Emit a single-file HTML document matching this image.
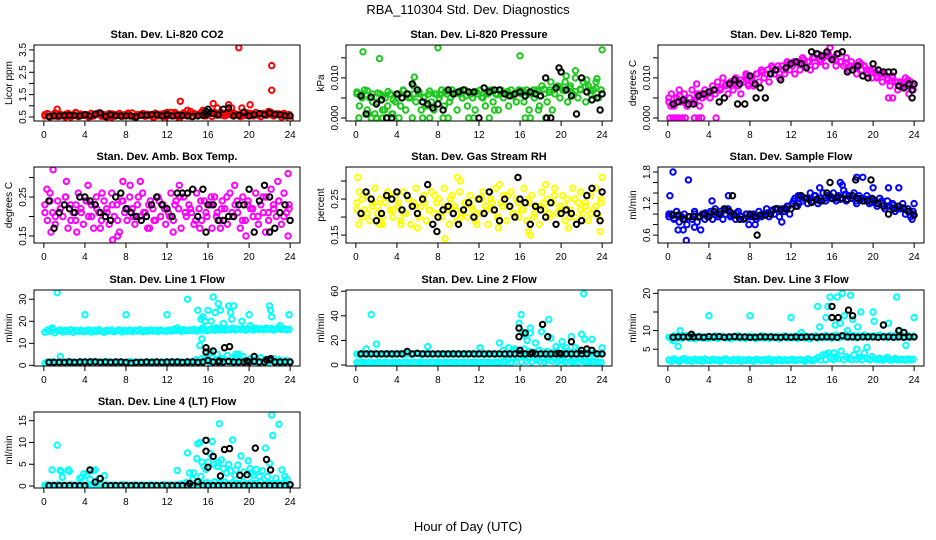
<!DOCTYPE html>
<html><head><meta charset="utf-8">
<style>
html,body{margin:0;padding:0;background:#fff;}
svg{display:block;font-family:"Liberation Sans",sans-serif;}
</style></head>
<body>
<svg id="chart" width="936" height="540" viewBox="0 0 936 540">
<text x="468" y="14" text-anchor="middle" font-size="13">RBA_110304  Std. Dev. Diagnostics</text>
<text x="468" y="531" text-anchor="middle" font-size="13">Hour of Day (UTC)</text>
</svg>
<script>
// ---------- data ----------
const hourTicks = [0,4,8,12,16,20,24];

const co2Red = [.55,.65,.5,.6,.68,.52,.62,.58,.5,.66,.56,.6,.7,.52,.63,.57,
.6,.5,.66,.55,.62,.68,.53,.6,.57,.65,.5,.62,.58,.66,.52,.6,
.63,.55,.68,.5,.6,.57,.65,.53,.62,.58,.5,.67,.55,.6,.64,.52,
.6,.7,.55,.65,.5,.62,.68,.57,.6,.52,.66,.58,.63,.7,.55,.6,
.65,.52,.7,.58,.62,.68,.55,.6,.72,.56,.64,.6,.52,.68,.58,.62,
.66,.55,.7,.6,.52,.65,.58,.62,.7,.55,.64,.6,.5,.66,.57,.6];
const co2Red2 = [.6,.52,.66,.55,.62,.5,.68,.57,.6,.53,.65,.58,.5,.63,.6,.55,.67,.52,.6,.64,.56,.5,.62,.66,
.58,.7,.55,.62,.75,.6,.68,.55,.72,.62,.58,.7,.65,.6,.55,.68,.62,.58,.66,.6,.55,.64,.58,.6];
const co2RedOut = [[1.3,.85],[13.3,1.2],[14,.8],[15.5,.8],[16.5,1.1],[16.9,.9],[18,1.05],[18.3,.9],[19,3.6],[19.3,.9],[20.1,1.05],[22.2,2.8],[22.2,1.7],[21.9,.75],[12,.7],[6.4,.4],[24,.4],[13.2,.4],[11.8,.42]];
const co2Black = [.52,.55,.55,.56,.58,.57,.55,.6,.55,.62,.68,.52,.6,.55,.55,.55,.55,.5,.58,.58,.6,.6,.55,.62,.55,.58,.57,.55,.52,.55,.58,.85,.65,.6,.85,.9,.55,.58,.72,.55,.6,.65,.6,.68,.62,.6,.55,.55];
const co2BlackOut = [[15.8,.75],[15.8,.6],[12,.58]];

const presGreen = [.006,.003,.006,.007,.002,.005,.006,.001,.004,.006,.002,.005,.003,.006,.001,.004,
.006,.003,.007,.002,.006,.005,.008,.004,.006,.002,.005,.003,.006,.004,.002,.006,
.005,.007,.003,.006,.004,.007,.006,.002,.006,.005,.007,.003,.006,.005,.002,.006,
.007,.005,.003,.006,.007,.004,.006,.002,.007,.005,.006,.003,.007,.006,.004,.007,
.006,.004,.007,.002,.006,.005,.007,.003,.008,.006,.004,.007,.002,.006,.008,.005,
.007,.009,.004,.008,.006,.010,.005,.007,.009,.004,.008,.006,.007,.009,.005,.007];
const presGreen2 = [.0065,.005,.0068,.004,.0062,.0055,.0066,.0045,.0058,.0068,.005,.006,.0065,.0052,.0067,.006,
.0058,.0066,.005,.0064,.0068,.0055,.006,.0066,.0052,.0064,.0068,.0058,.0062,.0066,.0055,.0064,
.0068,.006,.007,.0066,.0072,.0064,.007,.0078,.0068,.0074,.0066,.0072,.0078,.0068,.0074,.007];
const presGreenOut = [[0.7,.0165],[2.3,.0148],[8,.0175],[16,.0155],[24,.017],[5.7,.0102],[21.4,.0118],[0.3,0],[1.5,0],[2,0],[2.6,0],[3,0],[4.2,0],[5.5,0],[6.5,0],[7.2,0],[8.5,0],[9,0],[11,0],[11.5,0],[13,0],[16.5,0],[17,0],[18.5,0],[1.2,.001],[2.8,.002],[3.5,.001],[13.5,.002],[17.8,.002],[19,.009],[20.5,.0105],[22.5,.0095],[23.5,.0098]];
const presBlack = [.0055,.001,.0052,.0035,.0045,0,0,.006,.005,.006,.0085,.007,.004,.0035,.0025,.0035,.002,.007,.006,.0065,.007,.0065,.0065,0,.0075,.0065,.007,.007,.006,.0055,.006,.0065,.0055,.0065,.006,.0055,.01,0,.0075,.0115,.007,.0055,.001,.01,.0065,.0045,.005,.006];
const presBlackOut = [[19.8,.0125],[23.8,.002],[18.6,0]];

const tempMag = [.004,.006,.003,.005,.007,.004,.006,.003,.005,.007,.004,.006,.003,.005,.007,.006,
.005,.008,.006,.009,.007,.010,.008,.006,.009,.007,.010,.008,.006,.009,.011,.008,
.010,.008,.011,.009,.012,.010,.011,.009,.013,.011,.012,.010,.013,.011,.014,.012,
.013,.011,.014,.012,.015,.013,.014,.012,.015,.013,.016,.014,.015,.013,.016,.015,
.015,.013,.016,.014,.013,.015,.012,.014,.013,.011,.014,.012,.013,.011,.012,.010,
.012,.010,.011,.009,.011,.010,.008,.010,.009,.007,.009,.008,.010,.008,.009,.007];
const tempMag2 = [.005,.0035,.0055,.004,.005,.0045,.006,.0055,.0065,.007,.0075,.0085,.008,.009,.0095,.0105,
.01,.011,.0115,.012,.0125,.013,.012,.0135,.014,.0135,.0145,.014,.015,.0145,.0155,.015,
.0145,.014,.0135,.013,.0125,.0135,.012,.0115,.0105,.011,.0095,.0105,.009,.0085,.0095,.008];
const tempMagOut = [[0.2,0],[0.5,0],[0.8,0],[1.1,0],[1.4,0],[1.7,0],[2.6,0],[3,0],[3.3,0],[4.7,0],[2.8,.0085],[7.8,.0085],[21.5,.005],[21.9,.005],[23.5,.006],[15.8,.0175],[0.3,.003],[1.9,.003]];
const tempBlack = [.0035,.004,.0045,.0035,.0035,.0055,.006,.0065,.007,.004,.005,.0085,.0095,.0085,.0035,.0105,.0085,.0075,.005,.011,.012,.0095,.0125,.0135,.014,.0135,.0125,.0165,.016,.0155,.0165,.0145,.016,.0165,.0115,.012,.013,.0105,.01,.0135,.012,.0115,.0115,.0115,.008,.0075,.0085,.0085];
const tempBlackOut = [[23.8,.005],[23.8,.007],[6.8,.0035],[8.6,.005]];

const ambMag = [.23,.19,.26,.21,.18,.24,.22,.20,.25,.17,.23,.21,.19,.26,.22,.18,
.24,.20,.23,.17,.25,.21,.19,.24,.22,.18,.26,.20,.23,.16,.24,.21,
.19,.25,.22,.18,.23,.20,.26,.21,.17,.24,.22,.19,.25,.20,.23,.18,
.21,.26,.19,.24,.22,.17,.25,.20,.23,.21,.18,.26,.22,.19,.24,.20,
.23,.17,.25,.21,.19,.24,.22,.18,.26,.20,.23,.21,.17,.25,.19,.24,
.22,.20,.26,.18,.23,.21,.25,.19,.27,.22,.20,.24,.18,.26,.21,.23];
const ambMag2 = [.21,.24,.2,.22,.25,.19,.23,.21,.24,.2,.22,.26,.21,.23,.19,.24,.22,.2,.25,.21,.23,.19,.24,.22,
.2,.23,.25,.21,.22,.19,.24,.21,.23,.2,.22,.25,.21,.24,.19,.23,.22,.2,.25,.21,.23,.24,.2,.22];
const ambMagOut = [[0.9,.32],[0.3,.27],[2.2,.29],[4.3,.28],[6.7,.14],[7.2,.15],[9.4,.29],[8.4,.28],[7.7,.29],[22.8,.29],[23.8,.31],[23.8,.15],[19.7,.15],[3.2,.16],[0.7,.16],[10.3,.17],[15.2,.17],[21.6,.16],[12.6,.16],[16.3,.25],[18.6,.28],[17.2,.17],[13.2,.28],[5.5,.17]];
const ambBlack = [.24,.17,.21,.23,.22,.21,.25,.25,.24,.23,.21,.20,.19,.25,.26,.22,.21,.20,.19,.20,.23,.25,.23,.22,.20,.26,.26,.26,.27,.20,.27,.23,.23,.19,.19,.20,.20,.23,.23,.27,.16,.24,.28,.25,.17,.21,.23,.19];
const ambBlackOut = [[15.8,.16],[22,.16]];

const rhYel = [.24,.27,.20,.22,.26,.19,.23,.28,.21,.25,.18,.24,.27,.22,.20,.26,
.23,.19,.27,.21,.25,.18,.24,.28,.20,.23,.26,.19,.22,.27,.21,.24,
.25,.20,.28,.22,.18,.26,.23,.19,.27,.21,.24,.20,.26,.22,.19,.25,
.21,.27,.23,.18,.25,.22,.28,.20,.24,.26,.19,.23,.27,.21,.25,.20,
.22,.28,.19,.24,.26,.21,.23,.18,.27,.22,.25,.20,.24,.28,.21,.23,
.26,.19,.25,.22,.28,.20,.24,.27,.21,.23,.19,.26,.22,.28,.20,.24];
const rhYel2 = [.22,.25,.21,.24,.23,.2,.26,.22,.24,.21,.25,.23,.2,.24,.22,.26,.21,.23,.25,.22,.2,.24,.23,.21,
.25,.22,.24,.2,.23,.26,.21,.24,.22,.25,.2,.23,.24,.21,.26,.22,.23,.2,.25,.22,.24,.21,.23,.25];
const rhYelOut = [[0.2,.31],[8.7,.14],[9.9,.31],[10.2,.30],[16.8,.16],[17,.15],[20.7,.17],[24,.31],[23.8,.16],[0.3,.18],[2.3,.18],[4.4,.18],[6,.17],[11.8,.18],[18.5,.29],[21.9,.27],[14,.29],[13.9,.17]];
const rhBlack = [.21,.27,.25,.19,.21,.26,.25,.27,.22,.26,.23,.21,.25,.29,.18,.20,.22,.23,.21,.18,.22,.24,.20,.25,.21,.27,.22,.19,.25,.23,.20,.25,.24,.18,.23,.22,.20,.24,.18,.21,.22,.21,.18,.19,.26,.28,.21,.27];
const rhBlackOut = [[7.9,.16],[15.8,.31],[23.8,.19]];

const flowBlue = [.95,1.0,.9,1.05,.85,.95,1.0,.8,.95,.9,1.05,.85,.95,1.0,.9,.95,
1.0,.9,1.1,.95,1.05,.9,1.0,1.1,.95,1.0,.9,1.05,.95,.9,1.0,.95,
.95,1.0,.9,1.05,.95,1.0,1.1,.95,1.05,1.0,1.1,.95,1.1,1.05,1.15,1.0,
1.2,1.3,1.15,1.35,1.25,1.3,1.2,1.4,1.25,1.35,1.2,1.3,1.4,1.25,1.35,1.3,
1.4,1.25,1.35,1.3,1.45,1.25,1.35,1.3,1.4,1.2,1.35,1.3,1.25,1.35,1.2,1.3,
1.25,1.15,1.3,1.2,1.1,1.25,1.15,1.2,1.05,1.15,1.1,1.2,1.0,1.1,.95,1.05];
const flowBlue2 = [1.0,.92,.98,.9,.95,1.0,.95,1.02,1.05,.98,1.0,1.08,.98,1.02,.95,1.0,.98,.95,1.0,1.02,1.08,1.1,1.05,1.15,
1.25,1.2,1.3,1.28,1.35,1.25,1.3,1.35,1.3,1.28,1.38,1.3,1.25,1.3,1.28,1.22,1.2,1.25,1.15,1.18,1.1,1.12,1.05,1.0];
const flowBlueOut = [[0.2,1.35],[0.5,1.8],[2.0,1.65],[1.0,.7],[1.5,.7],[1.8,.5],[3.2,.7],[4.3,1.25],[5.9,1.35],[8.5,.8],[11.1,.85],[14.8,1.5],[16.8,1.6],[17,1.55],[18.4,1.7],[19,1.7],[20,1.5],[21.5,1.5],[22.5,1.5],[24,1.2],[23.8,.9],[12.7,1.35],[2.6,.75],[7.9,.8]];
const flowBlack = [.98,.98,.9,.95,.95,.95,1.0,.95,1.05,1.0,1.1,1.05,.98,.9,.92,1.0,.95,.98,.98,1.0,1.1,1.08,1.1,1.1,1.15,1.35,1.3,1.22,1.28,1.25,1.4,1.3,1.32,1.3,1.28,1.35,1.3,1.25,1.25,1.28,1.2,1.15,1.0,1.1,1.15,1.1,1.05,.98];
const flowBlackOut = [[15.8,1.6],[19.8,1.65],[6.3,1.35],[8.7,.6],[18.3,1.65]];

const l1Upper = [15,16,15.5,16.3,14.8,15.7,16.1,15.2,15.9,15.4,16.2,15,15.8,15.5,16,15.3,
15.6,16.1,15.1,15.8,15.4,16.2,15.5,15,15.9,15.6,16,15.3,15.7,16.1,15.2,15.8,
15.5,16,15.4,15.9,15.6,16.2,15.3,15.8,15.5,16.1,15.6,15.9,15.4,16,15.7,15.5,
16,15.6,16.3,15.8,16.1,15.5,16.2,15.7,16,15.8,16.4,15.6,16.1,15.9,16.3,15.7,
16.2,16.6,15.9,16.4,16.1,16.7,16,16.5,16.2,16.8,16.1,16.5,16.3,16.7,16,16.4,
16.5,16.1,16.8,16.3,16.6,16.2,16.9,16.4,16.7,16.1,16.5,16.8,16.3,16.6,16.2,16.4];
const l1Lower = [1,1.5,1.2,1.8,1,1.4,1.6,1.1,1.3,1.7,1.2,1.5,1.4,1.1,1.6,1.3,
1.5,1.2,1.8,1.4,1.1,1.6,1.3,1.5,1.2,1.7,1.4,1.1,1.5,1.3,1.6,1.2,
1.4,1.7,1.1,1.5,1.3,1.6,1.2,1.4,1.5,1.1,1.7,1.3,1.4,1.6,1.2,1.5,
1.3,1.6,1.2,1.5,1.7,1.4,1.1,1.6,1.5,1.3,2,2.5,1.5,3,2,4,
1.5,3.5,2,5,1.2,3,2.5,4.5,1.5,2,3.5,1.8,2.5,4,2,1.5,
3,2,2.5,1.5,3.5,2,2.8,1.5,2.2,3,1.8,2.5,1.5,2,2.2,1.8];
const l1CyanOut = [[1.3,33],[4,23],[8,23],[12,23],[14,30],[16.5,31],[15,25],[15.3,21],[15.5,22],[15.7,20],[16,25],[16.3,20],[16.7,24],[17,28],[17.2,25],[17.5,19],[18,27],[18.2,24],[18.5,27],[18.3,21],[19.3,20],[20,23],[20.1,18],[22,27],[22.1,25],[22.2,22],[23,18],[23.9,23],[15.2,9],[15.4,12],[1.6,4],[15.5,17],[16.2,6],[16.8,17],[18.7,5],[19,5],[16,3],[17.5,2],[0.8,17],[13,17]];
const l1Black = [1.4,1.4,1.4,1.4,1.5,1.4,1.5,1.5,1.5,1.6,1.4,1.5,1.4,1.5,1.5,1.4,1,1.4,1.4,1.5,1.4,1.5,1.4,1.5,1.5,1.5,1.4,1.5,1.5,1.4,1.5,2.2,1.5,1.5,1.5,1.8,1.5,1.5,1.5,1.5,1.8,1.5,1.5,2.5,1.5,1.5,1.5,1.5];
const l1BlackOut = [[15.8,8],[15.8,6],[16.5,6.5],[17.6,8],[18.1,8.5],[20.5,4],[21.7,2.5],[22.1,3],[17.1,2],[19.8,2]];

const l2Upper = [9,8.5,9.5,9,8.8,9.3,9,9.5,8.7,9.2,9,8.9,9.4,9,8.6,9.2,
9,9.5,8.8,9.1,9.3,8.7,9,9.4,9,8.8,9.2,9,9.5,8.9,9.1,9,
8.8,9.3,9,9.1,8.7,9.4,9,9.2,8.9,9,9.3,8.8,9.1,9.5,9,8.9,
9.2,9,8.8,9.4,9,9.1,8.7,9.3,9,12,9,14,10,9,12,9,
9.5,13,9,11,9.2,10,9,12,9,9.5,11,9,10,9.2,9,13,
9.5,9,11,9.2,10,9,12,9.4,9,10,9.1,9,9.5,9.2,9,9.3];
const l2Lower = [2,1.5,2.5,2,1.8,2.2,2,1.5,2.4,2,1.7,2.3,2,1.6,2.2,2,
2.3,1.8,2,2.4,1.6,2,2.2,1.8,2,2.5,1.7,2.1,2,2.3,1.9,2,
2.2,1.8,2,2.4,1.7,2.1,2,2.3,1.9,2,2.2,1.8,2.1,2,2.4,1.8,
2,2.2,1.9,2.3,2,1.8,2.4,2,2.2,3,2.5,4,2.2,5,3,6,
2.5,8,3,5,2.5,10,4,3,6,2.5,4,7,3,5,2.5,3.5,
4,2.5,6,3,2.2,4,2.5,5,3,2.2,2.8,2.5,3,2.2,2.5,2];
const l2CyanOut = [[1.5,41],[2,17],[7,15],[12.1,14],[14,18],[15.9,34],[16.1,41],[16.2,27],[16.5,24],[16.7,20],[17,30],[17,26],[17.5,18],[18.1,27],[18.8,37],[19,22],[19.5,15],[20.1,19],[21,23],[21.4,14],[22,25],[22.2,58],[22.3,21],[23,21],[24,14],[15.5,13],[17.8,12],[20.5,14],[19.3,10],[1,13]];
const l2Black = [9,9,9,9,9,9,9,9,9,11,9,9.5,9,9,9,9,9,9,9,9,9,9,9,9,9,9,9,9,9,9,9,9,9,9,9,9,9,9,9,9,9,9,9,9,9,12,9,9];
const l2BlackOut = [[15.9,30],[15.9,23],[16.5,26],[17.2,10],[18.2,33],[18.7,23],[21,19],[22,12],[22.5,13],[16,12],[19.8,9.5]];

const l3Upper = [8.2,7.8,8.6,8,8.4,7.9,8.3,8.7,8,8.4,7.8,8.2,8.5,8,8.3,7.9,
8.4,8.1,8.6,7.9,8.2,8.5,8,8.3,7.8,8.4,8.1,8.6,8,8.2,7.9,8.5,
8.1,8.4,7.8,8.2,8.6,8,8.3,7.9,8.5,8.1,8.4,7.8,8.2,8.6,8,8.3,
8.1,8.5,7.9,8.2,8.6,8,8.4,7.8,8.3,8.6,8,8.4,8.1,8.7,8.2,8.5,
8.3,8.8,8.1,8.6,8.3,8.9,8.2,8.5,8.7,8.1,8.6,8.4,8.8,8.2,8.5,8.3,
8.6,8.2,8.8,8.4,8.5,8.1,8.7,8.3,8.6,8.2,8.8,8.4,8.3,8.6,8.2,8.5];
const l3Lower = [2.1,1.8,2.4,2,1.7,2.2,2.5,1.9,2.1,1.8,2.3,2,2.2,1.8,2.4,2,
1.9,2.3,2,2.2,1.8,2.1,2.4,2,1.9,2.2,2,2.3,1.8,2.1,2,2.2,
2,1.8,2.3,2.1,1.9,2.2,2,2.4,1.8,2.1,2,2.3,1.9,2.2,2,2.1,
2.3,1.9,2.1,2.2,2,1.8,2.4,2.1,2,2.3,2.8,2.1,3.5,2.2,4,2.5,
2.2,3,2.4,4.5,2.2,3,2.5,2.2,3.5,2.3,2.8,2.2,4,2.5,2.2,3,
2.4,2.2,2.6,2.1,2.3,2.8,2.1,2.2,2.5,2.1,2.3,2.2,2.1,2.4,2.2,2.3];
const l3CyanOut = [[0.5,7.3],[1,5.8],[1.2,10],[4,14],[8,14],[12,13.5],[13,9.5],[14.6,16.5],[15.4,13.5],[15.6,16.5],[15.8,19],[16.5,19],[16.8,12],[17,20],[17.2,14],[17.8,19.5],[18,13],[18.5,11],[18.8,15],[19.4,5.5],[20,15],[20.1,12.5],[21,11.5],[21.5,12],[22.3,19],[22.6,10],[23.2,6],[24,13.5],[16,8],[17.5,10],[16.2,4],[18.4,5],[15.4,3.5],[14.8,11],[16.3,11.5]];
const l3Black = [8.2,8.3,8.3,8.3,8.3,8.3,8.2,8.4,8.3,8.4,8.2,8.3,8.4,8.3,8.3,8.2,8.2,8.3,8.3,8.3,8.2,8.2,8.3,8.2,8.3,8.2,8.3,8.3,8.2,8.3,8.3,8.3,8.2,8.6,8.3,8.3,8.2,8.3,8.3,8.3,8.2,8.3,8.3,8.2,8.3,8.2,8.3,8.3];
const l3BlackOut = [[16,16.5],[16,13.5],[16.6,13.5],[17.6,15.5],[18,14],[21,11.5],[22.5,10],[23,9.5],[2.3,9]];

const l4Base = [.2,.3,.1,.25,.2,.3,.15,.25,.2,.1,.3,.2,.25,.15,.3,.2,
.2,.25,.1,.3,.2,.15,.25,.2,.3,.1,.2,.25,.2,.15,.3,.2,
.25,.1,.2,.3,.15,.2,.25,.2,.1,.3,.2,.25,.15,.2,.3,.2,
.2,.3,.15,.25,.2,.5,.3,.8,.2,.5,.3,1,.4,.6,.3,.8,
.5,.3,1,.4,.7,.3,.9,.5,.3,.8,.4,.6,.3,1,.5,.4,
.8,.3,.6,.4,.9,.3,.5,.7,.3,.6,.4,.5,.3,.7,.4,.3];
const l4CyanOut = [[0.8,3.7],[1.3,9.4],[1.6,3.6],[1.7,3.3],[1.8,2],[2.4,3.7],[2.5,3.4],[3.5,1.8],[3.7,2],[3.9,2.8],[4.2,2.5],[4.5,1.5],[4.8,3.5],[5,3.7],[5.4,1.8],[5.9,2.4],[13,3.6],[14,7.6],[14.2,3],[14.6,3],[14.9,6.3],[15,9.7],[15.2,10],[15.4,5.5],[15.6,4.5],[15.8,3.8],[16.2,7.5],[16.4,10.2],[16.6,5],[16.9,4.5],[17.1,14.3],[17.3,6],[17.5,4],[17.8,3],[18,5],[18.2,3.5],[18.4,10.6],[18.6,2.5],[18.9,4.8],[19.2,6.9],[19.5,3.2],[19.9,5.8],[20.1,4],[20.4,2.5],[20.7,3.8],[21,2.2],[21.3,3.5],[21.6,8.7],[21.8,2.2],[22,5.2],[22.2,16.3],[22.3,11.6],[22.6,1.8],[22.9,14.2],[23.2,3.7],[23.5,2.2],[23.7,1.5],[16,5.5],[17,5.5],[18.7,3.7],[20.2,3],[14.5,1.5],[15.3,2.2]];
const l4Black = [.1,.1,.1,.1,.1,.1,.1,.1,3.7,.9,1.7,.1,.1,.1,.1,.1,.1,.1,.1,.1,.1,.1,.1,.1,.1,.1,.1,.1,.1,1,.1,.1,.1,.1,.1,.1,.1,.1,.1,.1,.1,.1,.1,.1,.1,.1,.1,.3];
const l4BlackOut = [[15.8,10.5],[15.8,8],[16,4.3],[16.5,6.8],[17.2,2.3],[17.6,8.4],[18.1,8.6],[19.1,2.5],[19.8,2.6],[20.6,8.7],[21.7,6.1],[22.1,3.7],[14.2,.6]];

// ---------- drawing ----------
const NS = 'http://www.w3.org/2000/svg';
const svg = document.getElementById('chart');
const colX = [34,346,658], rowY = [45,167,290,412], PW = 266, PH = 76;

function mk(tag, attrs, parent){
  const e = document.createElementNS(NS, tag);
  for (const k in attrs) e.setAttribute(k, attrs[k]);
  (parent||svg).appendChild(e);
  return e;
}

const panels = [
 {key:'co2',title:'Stan. Dev. Li-820 CO2',ylab:'Licor ppm',c:0,r:0,y0:.32,y1:3.72,ticks:[.5,1,1.5,2,2.5,3,3.5],labels:['0.5','','1.5','','2.5','','3.5'],color:'#ff0000',series:[co2Red,co2Red2],out:co2RedOut,blk:co2Black,blkOut:co2BlackOut},
 {key:'pressure',title:'Stan. Dev. Li-820 Pressure',ylab:'kPa',c:1,r:0,y0:-.00075,y1:.0182,ticks:[0,.005,.01,.015],labels:['0.000','','0.010',''],color:'#1ec81e',series:[presGreen,presGreen2],out:presGreenOut,blk:presBlack,blkOut:presBlackOut},
 {key:'temp',title:'Stan. Dev. Li-820 Temp.',ylab:'degrees C',c:2,r:0,y0:-.00075,y1:.0182,ticks:[0,.005,.01,.015],labels:['0.000','','0.010',''],color:'#ff00ff',series:[tempMag,tempMag2],out:tempMagOut,blk:tempBlack,blkOut:tempBlackOut},
 {key:'ambbox',title:'Stan. Dev. Amb. Box Temp.',ylab:'degrees C',c:0,r:1,y0:.132,y1:.327,ticks:[.15,.2,.25,.3],labels:['0.15','','0.25',''],color:'#ff00ff',series:[ambMag,ambMag2],out:ambMagOut,blk:ambBlack,blkOut:ambBlackOut},
 {key:'rh',title:'Stan. Dev. Gas Stream RH',ylab:'percent',c:1,r:1,y0:.128,y1:.339,ticks:[.15,.2,.25,.3],labels:['0.15','','0.25',''],color:'#ffff00',series:[rhYel,rhYel2],out:rhYelOut,blk:rhBlack,blkOut:rhBlackOut},
 {key:'sampleflow',title:'Stan. Dev. Sample Flow',ylab:'ml/min',c:2,r:1,y0:.45,y1:1.895,ticks:[.6,.8,1,1.2,1.4,1.6,1.8],labels:['0.6','','','1.2','','','1.8'],color:'#0000ff',series:[flowBlue,flowBlue2],out:flowBlueOut,blk:flowBlack,blkOut:flowBlackOut},
 {key:'line1',title:'Stan. Dev. Line 1 Flow',ylab:'ml/min',c:0,r:2,y0:-.3,y1:34.2,ticks:[0,10,20,30],labels:['0','10','20','30'],color:'#00ffff',series:[l1Upper,l1Lower],out:l1CyanOut,blk:l1Black,blkOut:l1BlackOut},
 {key:'line2',title:'Stan. Dev. Line 2 Flow',ylab:'ml/min',c:1,r:2,y0:-.8,y1:61,ticks:[0,20,40,60],labels:['0','20','40','60'],color:'#00ffff',series:[l2Upper,l2Lower],out:l2CyanOut,blk:l2Black,blkOut:l2BlackOut},
 {key:'line3',title:'Stan. Dev. Line 3 Flow',ylab:'ml/min',c:2,r:2,y0:.5,y1:20.9,ticks:[5,10,15,20],labels:['5','10','','20'],color:'#00ffff',series:[l3Upper,l3Lower],out:l3CyanOut,blk:l3Black,blkOut:l3BlackOut},
 {key:'line4',title:'Stan. Dev. Line 4 (LT) Flow',ylab:'ml/min',c:0,r:3,y0:-.45,y1:17,ticks:[0,5,10,15],labels:['0','5','10','15'],color:'#00ffff',series:[l4Base],out:l4CyanOut,blk:l4Black,blkOut:l4BlackOut}
];

panels.forEach(p=>{
  const L = colX[p.c], T = rowY[p.r], B = T+PH, R = L+PW;
  const xs = h => L + (h + 0.96) / 25.92 * PW;
  const ys = v => B - (v - p.y0) / (p.y1 - p.y0) * PH;
  const g = mk('g', {});
  
  

  const t = mk('text', {x:(L+R)/2, y:T-7, 'text-anchor':'middle', 'font-size':11, 'font-weight':'bold'}, g);
  t.textContent = p.title;
  
  

  const yl = mk('text', {x:0, y:0, 'text-anchor':'middle', 'font-size':10, transform:`translate(${L-22},${(T+B)/2}) rotate(-90)`}, g);
  yl.textContent = p.ylab;
  
  

  const cid = 'clip-' + p.key;
  const cp = mk('clipPath', {id:cid}, g);
  mk('rect', {x:L, y:T, width:PW, height:PH}, cp);
  const pts = mk('g', {'clip-path':`url(#${cid})`, fill:'none', 'stroke-width':2}, g);
  
  

  function dot(h, v, col){
    const c = mk('circle', {cx:xs(h).toFixed(1), cy:ys(v).toFixed(1), r:2.7, stroke:col}, pts);
    
    
  }
  p.series.forEach(arr=>{
    arr.forEach((v,i)=>dot(0.1 + i*23.8/(arr.length-1), v, p.color));
  });
  p.out.forEach(([h,v])=>dot(h, v, p.color));
  p.blk.forEach((v,i)=>dot(0.5 + i*23.5/(p.blk.length-1), v, '#000'));
  p.blkOut.forEach(([h,v])=>dot(h, v, '#000'));

  const box = mk('rect', {x:L, y:T, width:PW, height:PH, fill:'none', stroke:'#000', 'stroke-width':1}, g);
  
  

  hourTicks.forEach(h=>{
    const x = xs(h);
    mk('line', {x1:x, x2:x, y1:B, y2:B+5, stroke:'#000'}, g);
    const tl = mk('text', {x:x, y:B+17, 'text-anchor':'middle', 'font-size':10}, g);
    tl.textContent = h;
    
    
  });
  p.ticks.forEach((v,i)=>{
    const y = ys(v);
    mk('line', {x1:L-5, x2:L, y1:y, y2:y, stroke:'#000'}, g);
    if (p.labels[i]) {
      const tl = mk('text', {x:0, y:0, 'text-anchor':'middle', 'font-size':10, transform:`translate(${L-8},${y}) rotate(-90)`}, g);
      tl.textContent = p.labels[i];
      
      
    }
  });
});
</script>
</body></html>
